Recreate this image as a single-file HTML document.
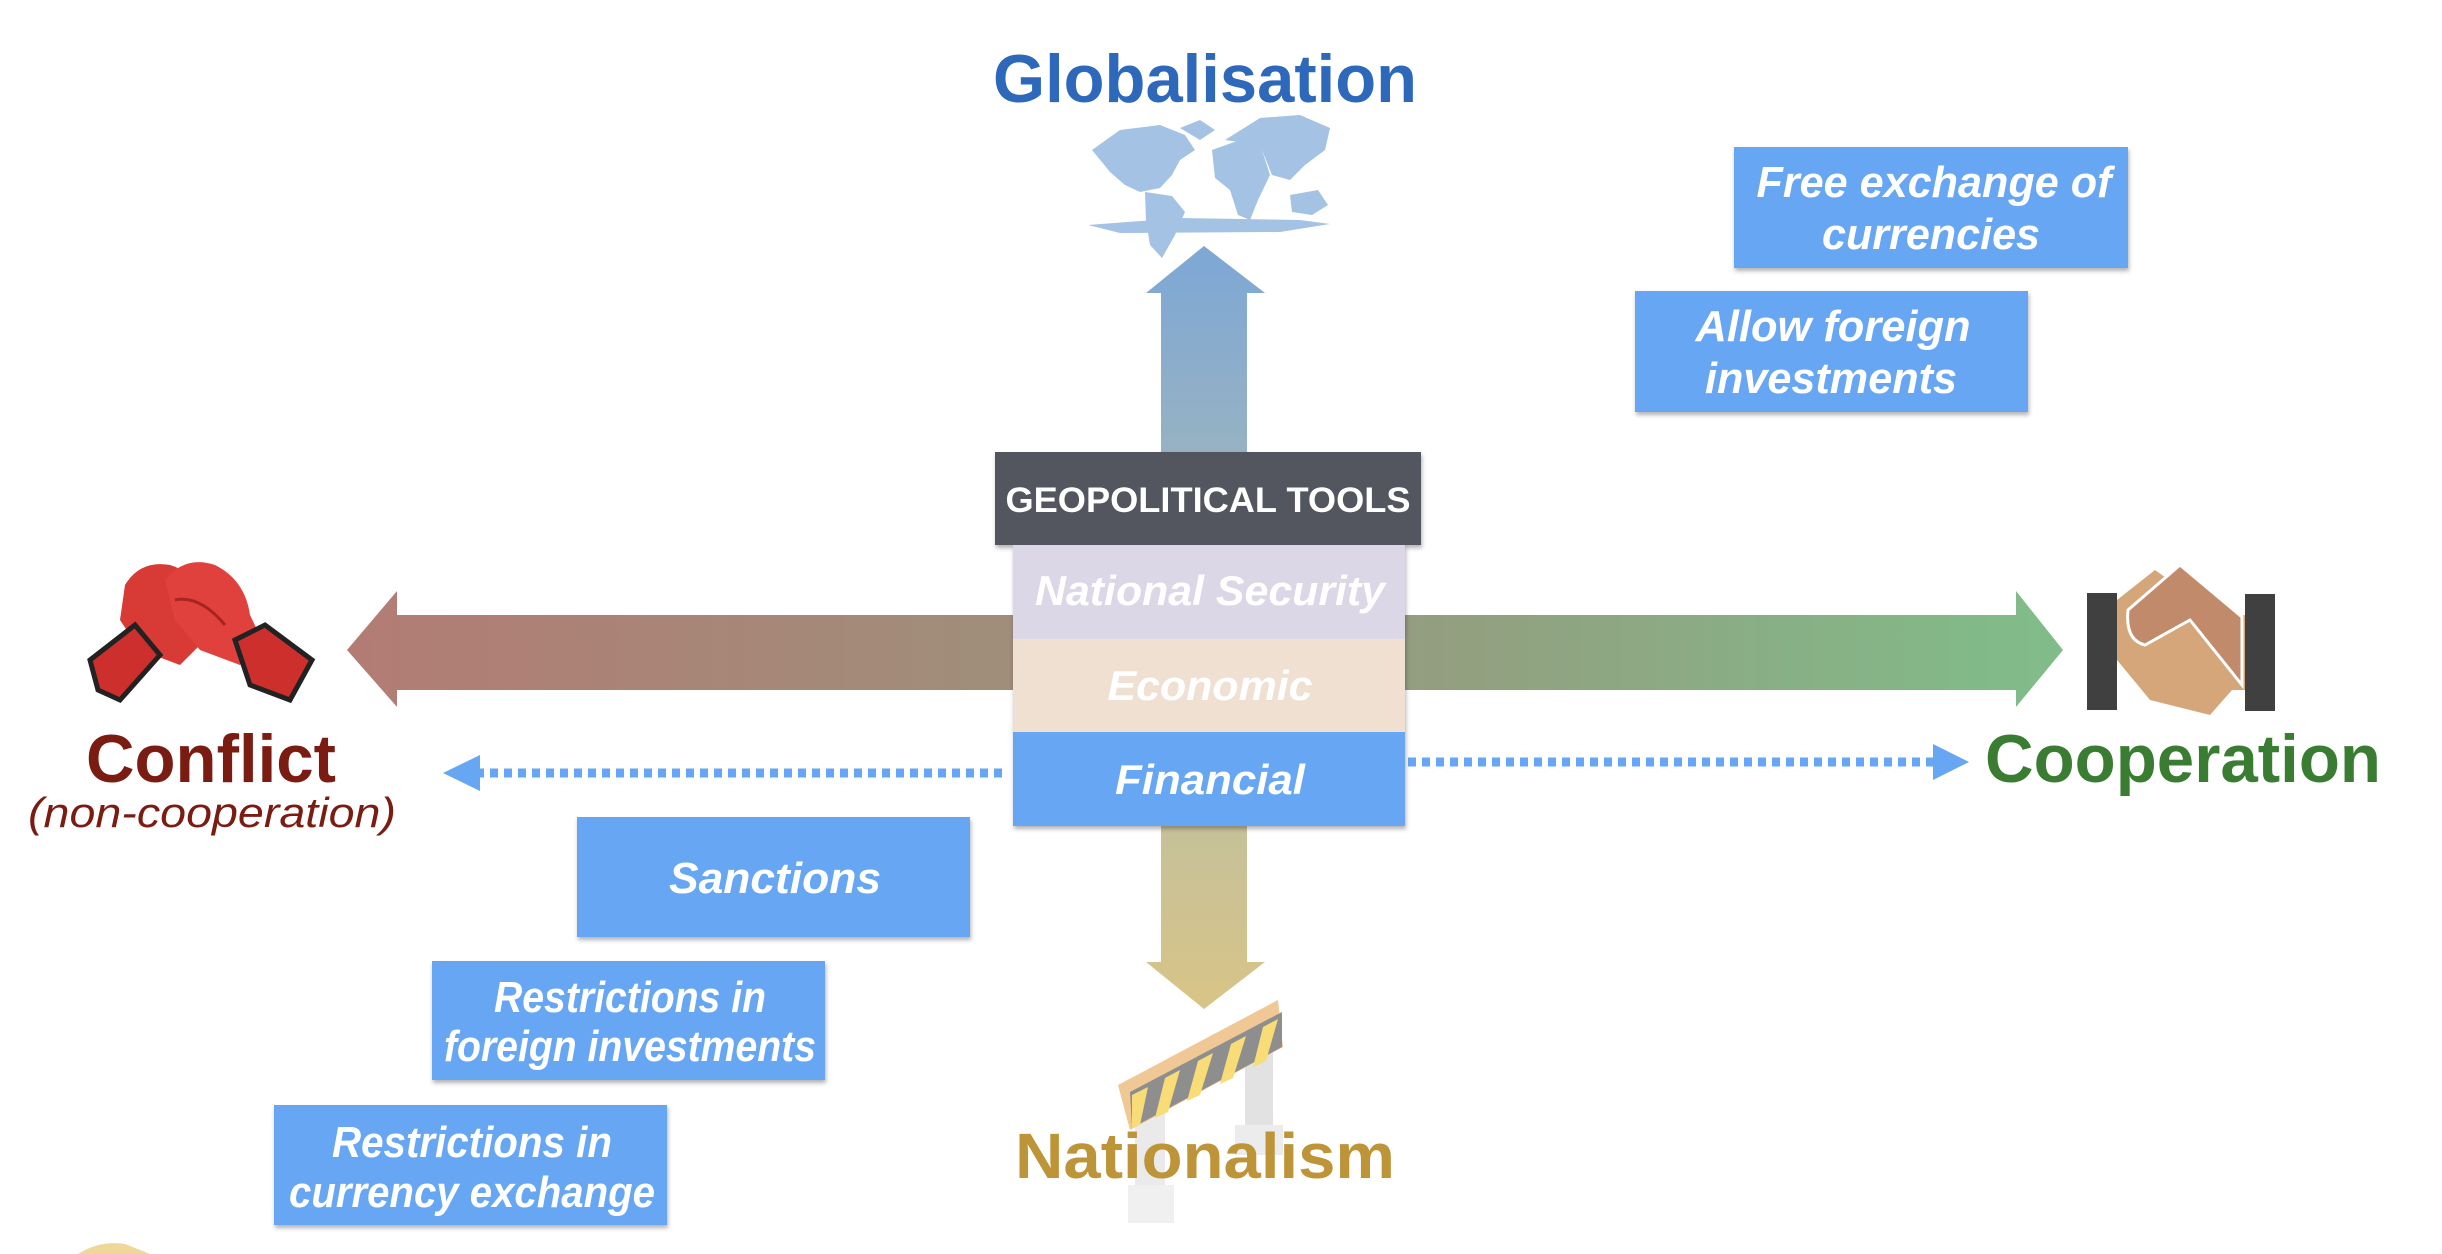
<!DOCTYPE html>
<html><head><meta charset="utf-8"><style>
html,body{margin:0;padding:0;background:#fff;}
svg{display:block;}
text{font-family:"Liberation Sans",sans-serif;}
</style></head><body>
<svg width="2442" height="1254" viewBox="0 0 2442 1254" xmlns="http://www.w3.org/2000/svg">
<defs>
<linearGradient id="hg" x1="347" y1="0" x2="2063" y2="0" gradientUnits="userSpaceOnUse">
<stop offset="0" stop-color="#b27c74"/><stop offset="0.5" stop-color="#9a937c"/><stop offset="1" stop-color="#80bd8a"/>
</linearGradient>
<linearGradient id="ug" x1="0" y1="246" x2="0" y2="454" gradientUnits="userSpaceOnUse">
<stop offset="0" stop-color="#7da7d6"/><stop offset="1" stop-color="#97b2c2"/>
</linearGradient>
<linearGradient id="dg" x1="0" y1="826" x2="0" y2="1009" gradientUnits="userSpaceOnUse">
<stop offset="0" stop-color="#c6c19a"/><stop offset="1" stop-color="#d8c486"/>
</linearGradient>
<filter id="sh" x="-5%" y="-5%" width="110%" height="120%"><feDropShadow dx="1" dy="3" stdDeviation="2" flood-color="#000" flood-opacity="0.3"/></filter>
</defs>

<!-- world map -->
<g fill="#a3c2e4">
<path d="M1092 150 L1120 130 L1160 125 L1185 135 L1195 150 L1180 160 L1172 175 L1160 188 L1140 192 L1125 185 L1110 172 Z"/>
<path d="M1145 192 L1172 196 L1185 212 L1175 235 L1162 258 L1150 245 L1146 220 Z"/>
<path d="M1180 128 L1200 120 L1215 130 L1200 140 Z"/>
<path d="M1212 150 L1240 140 L1262 150 L1270 175 L1258 200 L1250 220 L1238 215 L1230 190 L1215 178 Z"/>
<path d="M1225 140 L1260 118 L1300 115 L1330 128 L1325 150 L1305 165 L1290 180 L1272 175 L1262 150 L1240 142 Z"/>
<path d="M1290 195 L1318 190 L1328 205 L1312 215 L1292 212 Z"/>
<path d="M1088 225 L1180 218 L1300 220 L1330 224 L1280 232 L1120 233 Z"/>
</g>

<!-- up arrow -->
<polygon points="1161,454 1161,293 1146,293 1204,246 1265,293 1247,293 1247,454" fill="url(#ug)"/>
<!-- horizontal double arrow -->
<polygon points="347,650 397,591 397,615 2016,615 2016,591 2063,650 2016,707 2016,690 397,690 397,707" fill="url(#hg)"/>
<!-- down arrow -->
<polygon points="1161,826 1247,826 1247,962 1265,962 1204,1009 1146,962 1161,962" fill="url(#dg)"/>

<!-- dotted arrows -->
<line x1="1002" y1="773" x2="477" y2="773" stroke="#66a6f2" stroke-width="9" stroke-dasharray="8,6"/>
<polygon points="443,773 480,755 480,791" fill="#66a6f2"/>
<line x1="1408" y1="762" x2="1936" y2="762" stroke="#66a6f2" stroke-width="9" stroke-dasharray="8,6"/>
<polygon points="1969,762 1933,744 1933,780" fill="#66a6f2"/>

<!-- center stack -->
<rect x="995" y="452" width="426" height="93" fill="#53565f" filter="url(#sh)"/>
<text x="1208" y="512" text-anchor="middle" font-size="35" font-weight="bold" fill="#fff" textLength="405" lengthAdjust="spacingAndGlyphs">GEOPOLITICAL TOOLS</text>
<rect x="1013" y="545" width="392" height="281" fill="#66a6f2" filter="url(#sh)"/>
<rect x="1013" y="545" width="392" height="94" fill="#dcd7e6"/>
<rect x="1013" y="639" width="392" height="93" fill="#efe0d2"/>
<text x="1210" y="605" text-anchor="middle" font-size="42" font-weight="bold" font-style="italic" fill="#fff" textLength="350" lengthAdjust="spacingAndGlyphs">National Security</text>
<text x="1210" y="700" text-anchor="middle" font-size="42" font-weight="bold" font-style="italic" fill="#fff" textLength="205" lengthAdjust="spacingAndGlyphs">Economic</text>
<text x="1210" y="794" text-anchor="middle" font-size="42" font-weight="bold" font-style="italic" fill="#fff" textLength="190" lengthAdjust="spacingAndGlyphs">Financial</text>

<!-- Globalisation -->
<text x="1205" y="102" text-anchor="middle" font-size="68" font-weight="bold" fill="#2d68bb" textLength="424" lengthAdjust="spacingAndGlyphs">Globalisation</text>

<!-- blue boxes -->
<g filter="url(#sh)" fill="#66a6f2">
<rect x="1734" y="147" width="394" height="121"/>
<rect x="1635" y="291" width="393" height="121"/>
<rect x="577" y="817" width="393" height="120"/>
<rect x="432" y="961" width="393" height="119"/>
<rect x="274" y="1105" width="393" height="120"/>
</g>
<g font-size="44" font-weight="bold" font-style="italic" fill="#fff" text-anchor="middle">
<text x="1934" y="197" textLength="355" lengthAdjust="spacingAndGlyphs">Free exchange of</text>
<text x="1931" y="249" textLength="218" lengthAdjust="spacingAndGlyphs">currencies</text>
<text x="1833" y="341" textLength="275" lengthAdjust="spacingAndGlyphs">Allow foreign</text>
<text x="1831" y="393" textLength="252" lengthAdjust="spacingAndGlyphs">investments</text>
<text x="775" y="893" textLength="212" lengthAdjust="spacingAndGlyphs">Sanctions</text>
<text x="630" y="1012" textLength="272" lengthAdjust="spacingAndGlyphs">Restrictions in</text>
<text x="630" y="1061" textLength="372" lengthAdjust="spacingAndGlyphs">foreign investments</text>
<text x="472" y="1157" textLength="280" lengthAdjust="spacingAndGlyphs">Restrictions in</text>
<text x="472" y="1207" textLength="366" lengthAdjust="spacingAndGlyphs">currency exchange</text>
</g>

<!-- boxing gloves -->
<g>
<path d="M125 585 Q140 560 170 565 Q195 572 200 600 L205 640 L180 665 L140 650 L120 620 Z" fill="#d83a35"/>
<path d="M165 580 Q185 555 215 565 Q245 580 250 615 L262 640 L240 665 L200 650 L175 620 Z" fill="#e0413c"/>
<path d="M90 660 L135 625 L160 655 L120 700 L98 690 Z" fill="#cc2f2c" stroke="#222" stroke-width="5"/>
<path d="M235 640 L265 625 L312 660 L290 700 L250 685 Z" fill="#cc2f2c" stroke="#222" stroke-width="5"/>
<path d="M175 600 Q200 595 225 625" fill="none" stroke="#a82420" stroke-width="3"/>
</g>
<text x="211" y="782" text-anchor="middle" font-size="68" font-weight="bold" fill="#7a1c12" textLength="250" lengthAdjust="spacingAndGlyphs">Conflict</text>
<text x="212" y="827" text-anchor="middle" font-size="42" font-style="italic" fill="#7a1c12" textLength="368" lengthAdjust="spacingAndGlyphs">(non-cooperation)</text>

<!-- handshake -->
<g>
<rect x="2087" y="593" width="30" height="117" fill="#404040"/>
<rect x="2245" y="594" width="30" height="117" fill="#404040"/>
<path d="M2117 600 L2155 570 L2225 620 L2245 615 L2245 690 L2232 690 L2210 715 L2150 700 L2117 660 Z" fill="#d4a67a"/>
<path d="M2128 610 L2180 565 L2242 617 L2242 685 L2190 620 L2145 645 Q2125 640 2128 610 Z" fill="#c18a6a" stroke="#fff" stroke-width="3"/>
</g>
<text x="2183" y="782" text-anchor="middle" font-size="68" font-weight="bold" fill="#3a7d32" textLength="396" lengthAdjust="spacingAndGlyphs">Cooperation</text>

<!-- barrier -->
<g>
<rect x="1245" y="1045" width="28" height="110" fill="#e2e2e2"/>
<rect x="1235" y="1125" width="48" height="30" fill="#ececec"/>
<rect x="1135" y="1105" width="30" height="100" fill="#eaeaea"/>
<rect x="1128" y="1185" width="46" height="38" fill="#f0f0f0"/>
<polygon points="1118,1085 1278,1000 1283,1047 1130,1130" fill="#f0c896"/>
<polygon points="1130,1092 1282,1012 1282,1047 1132,1128" fill="#8e8e8e"/>
<g fill="#f7dc78">
<polygon points="1132,1095 1148,1087 1140,1125 1132,1128"/>
<polygon points="1165,1078 1180,1070 1168,1112 1155,1118"/>
<polygon points="1198,1061 1213,1053 1200,1095 1187,1101"/>
<polygon points="1231,1044 1246,1036 1233,1078 1220,1084"/>
<polygon points="1263,1027 1278,1019 1266,1061 1253,1067"/>
</g>
</g>
<text x="1205" y="1178" text-anchor="middle" font-size="64" font-weight="bold" fill="#bd9538" textLength="380" lengthAdjust="spacingAndGlyphs">Nationalism</text>

<!-- bottom-left partial shape -->
<path d="M78 1254 Q100 1240 125 1244 L150 1254 Z" fill="#efd79a"/>
</svg>
</body></html>
